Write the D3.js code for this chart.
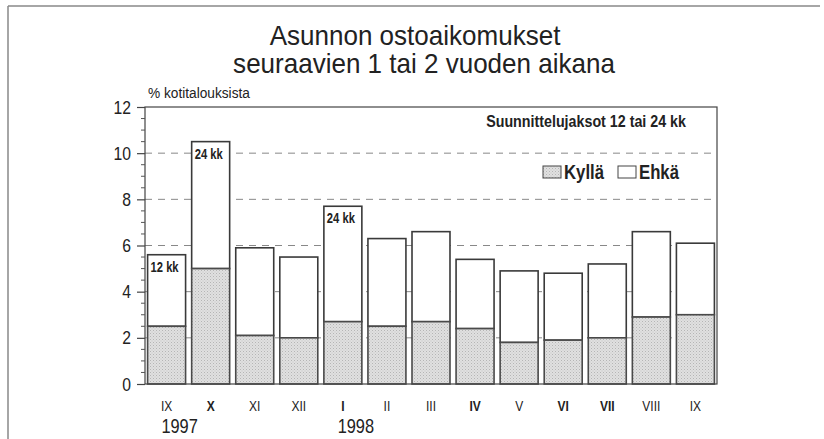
<!DOCTYPE html>
<html><head><meta charset="utf-8">
<script src="https://cdn.jsdelivr.net/npm/d3@7"></script>
<style>
body{margin:0;background:#fff;}
text{font-family:"Liberation Sans",Arial,sans-serif;fill:#222;}
</style></head>
<body><svg id="c" width="824" height="439"></svg>
<script>
const months = ["IX","X","XI","XII","I","II","III","IV","V","VI","VII","VIII","IX"];
const boldMonths = [false,true,false,false,true,false,false,true,false,true,true,false,false];
const kylla = [2.5,5.0,2.1,2.0,2.7,2.5,2.7,2.4,1.8,1.9,2.0,2.9,3.0];
const total = [5.6,10.5,5.9,5.5,7.7,6.3,6.6,5.4,4.9,4.8,5.2,6.6,6.1];
const barLabels = ["12 kk","24 kk","","","24 kk","","","","","","","",""];
const years = [{i:0,label:"1997"},{i:4,label:"1998"}];
const yTicks = [0,2,4,6,8,10,12];
const titleLines = ["Asunnon ostoaikomukset","seuraavien 1 tai 2 vuoden aikana"];
const seriesNames = ["Kyllä","Ehkä"];
const unitLabel = "% kotitalouksista";
const legendTitle = "Suunnittelujaksot 12 tai 24 kk";

const svg = d3.select("#c");
const L=145,R=717,T=107,B=384;
const SX = 0.8; // condensed look
const idx = months.map((m,i)=>i);
const x = d3.scaleBand().domain(idx).range([L,R]).paddingInner(0.138).paddingOuter(0.059);
const y = d3.scaleLinear().domain([0,12]).range([B,T]);

function ctext(parent, px, py, str, size, opt={}) {
  const t = parent.append("text").attr("x",0).attr("y",0)
    .attr("font-size",size).attr("font-weight",opt.bold?"bold":"normal")
    .attr("text-anchor",opt.anchor||"start").text(str);
  let s = opt.sx || SX;
  if (opt.width) s = opt.width / t.node().getComputedTextLength();
  t.attr("transform",`translate(${px},${py}) scale(${s},1)`);
  return t;
}

const defs = svg.append("defs");
const pat = defs.append("pattern").attr("id","dots").attr("width",3).attr("height",3).attr("patternUnits","userSpaceOnUse");
pat.append("rect").attr("width",3).attr("height",3).attr("fill","#e0e0e0");
pat.append("rect").attr("x",0).attr("y",0).attr("width",1).attr("height",1).attr("fill","#b5b5b5");
pat.append("rect").attr("x",1.5).attr("y",1.5).attr("width",1).attr("height",1).attr("fill","#c6c6c6");

// outer frame
svg.append("line").attr("x1",8).attr("x2",820).attr("y1",6).attr("y2",6).attr("stroke","#888").attr("stroke-width",1.5);
svg.append("line").attr("x1",8).attr("x2",8).attr("y1",6).attr("y2",439).attr("stroke","#888").attr("stroke-width",1.5);

// title
const tg = svg.append("g");
ctext(tg, 415, 45, titleLines[0], 28, {anchor:"middle", width:291});
ctext(tg, 424, 73, titleLines[1], 28, {anchor:"middle", width:382});

// gridlines
svg.append("g").selectAll("line").data(yTicks.filter(v=>v>0&&v<12)).join("line")
  .attr("x1",L).attr("x2",R).attr("y1",d=>y(d)).attr("y2",d=>y(d))
  .attr("stroke","#888").attr("stroke-width",1).attr("stroke-dasharray","7,6");

// bars
const g = svg.append("g");
g.selectAll("rect.e").data(idx).join("rect").attr("class","e")
  .attr("x",i=>x(i)).attr("width",x.bandwidth())
  .attr("y",i=>y(total[i])).attr("height",i=>y(kylla[i])-y(total[i]))
  .attr("fill","#fff").attr("stroke","#3a3a3a").attr("stroke-width",1.6);
g.selectAll("rect.k").data(idx).join("rect").attr("class","k")
  .attr("x",i=>x(i)).attr("width",x.bandwidth())
  .attr("y",i=>y(kylla[i])).attr("height",i=>y(0)-y(kylla[i]))
  .attr("fill","url(#dots)").attr("stroke","#4a4a4a").attr("stroke-width",1.6);
idx.filter(i=>barLabels[i]).forEach(i=>ctext(g, x(i)+3, y(total[i])+17, barLabels[i], 14, {bold:true}));

// plot box
svg.append("rect").attr("x",L).attr("y",T).attr("width",R-L).attr("height",B-T)
  .attr("fill","none").attr("stroke","#444").attr("stroke-width",1.2);

// y axis
const ya = svg.append("g").attr("transform",`translate(${L},0)`)
  .call(d3.axisLeft(y).tickValues(yTicks).tickSize(8).tickFormat(""));
ya.select(".domain").remove();
ya.selectAll("line").attr("stroke","#444").attr("stroke-width",1.2);
yTicks.forEach(v=>ctext(svg, L-14, y(v)+6.5, d3.format("d")(v), 18.5, {anchor:"end", sx:0.85}));
const minor = d3.range(0,12.01,0.5).filter(v=>v%2!==0);
svg.append("g").selectAll("line").data(minor).join("line")
  .attr("x1",L-4).attr("x2",L).attr("y1",d=>y(d)).attr("y2",d=>y(d))
  .attr("stroke","#555").attr("stroke-width",1);
ctext(svg, 148, 98, unitLabel, 15.5, {width:102});

// x labels
const xg = svg.append("g");
idx.forEach(i=>ctext(xg, x(i)+x.bandwidth()/2, 411, months[i], 15, {anchor:"middle", bold:boldMonths[i]}));
years.forEach(d=>ctext(xg, x(d.i)+x.bandwidth()/2+13, 433, d.label, 20, {anchor:"middle", sx:0.82}));

// legend
ctext(svg, 686, 127, legendTitle, 17, {anchor:"end", bold:true, width:200});
const lg = svg.append("g");
const lx = [543,618];
lg.selectAll("rect").data(seriesNames).join("rect")
  .attr("x",(d,i)=>lx[i]).attr("y",166).attr("width",18).attr("height",12)
  .attr("fill",(d,i)=>i===0?"url(#dots)":"#fff").attr("stroke","#444").attr("stroke-width",1);
seriesNames.forEach((d,i)=>ctext(lg, lx[i]+21, 179, d, 19.5, {bold:true, width:40}));
</script></body></html>
